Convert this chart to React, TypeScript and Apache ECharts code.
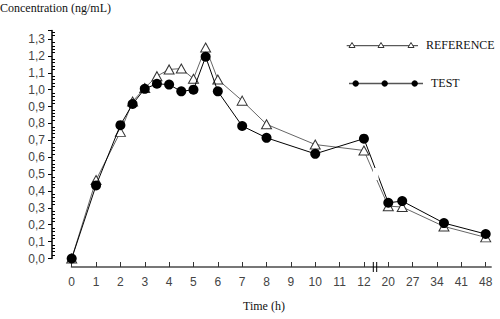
import React, { useEffect, useRef } from "react";
import * as echarts from "echarts";

// ---- data ----
const times = [0, 1, 2, 2.5, 3, 3.5, 4, 4.5, 5, 5.5, 6, 7, 8, 10, 12, 20, 24, 36, 48];
const referenceValues = [0, 0.465, 0.75, 0.93, 1.01, 1.08, 1.12, 1.125, 1.065, 1.25, 1.06, 0.935, 0.795, 0.675, 0.64, 0.31, 0.305, 0.19, 0.125];
const testValues = [0, 0.433, 0.79, 0.915, 1.005, 1.035, 1.03, 0.99, 1.0, 1.195, 0.99, 0.785, 0.715, 0.62, 0.71, 0.33, 0.34, 0.21, 0.145];
const xTickLabels = ["0", "1", "2", "3", "4", "5", "6", "7", "8", "9", "10", "11", "12", "20", "27", "34", "41", "48"];
const seriesNames = ["REFERENCE", "TEST"];

// broken time axis: 0..12 h linear, then one slot per 7 h starting at 20 h
const BREAK_FROM = 12;
const AFTER_BREAK_START = 20;
const AFTER_BREAK_STEP = 7;
function timeToPos(t: number): number {
  if (t <= BREAK_FROM) return t;
  return BREAK_FROM + 1 + (t - AFTER_BREAK_START) / AFTER_BREAK_STEP;
}

const SERIF = "'Liberation Serif', 'Times New Roman', serif";
const SANS = "'Liberation Sans', Arial, sans-serif";

export default function App() {
  const ref = useRef<HTMLDivElement>(null);

  useEffect(() => {
    document.body.style.margin = "0";
    const chart = echarts.init(ref.current as HTMLDivElement, null, { renderer: "svg" });

    const refData = times.map((t, i) => [timeToPos(t), referenceValues[i]]);
    const testData = times.map((t, i) => [timeToPos(t), testValues[i]]);

    const yAxisCommon = {
      type: "value" as const,
      min: 0,
      max: 1.35,
      interval: 0.1,
      position: "left" as const,
      offset: 19.7,
      splitLine: { show: false },
    };

    chart.setOption({
      animation: false,
      backgroundColor: "#fff",
      grid: { left: 71.7, right: 14.3, top: 30.6, bottom: 60.5, containLabel: false },
      xAxis: {
        type: "value",
        min: 0,
        max: 17,
        interval: 1,
        position: "bottom",
        offset: 8.5,
        splitLine: { show: false },
        axisLine: { show: true, onZero: false, lineStyle: { color: "#777", width: 2 } },
        axisTick: { show: true, inside: true, length: 5, lineStyle: { color: "#333", width: 1 } },
        axisLabel: {
          margin: 9,
          fontFamily: SANS,
          fontSize: 12,
          color: "#444",
          formatter: (v: number) => xTickLabels[Math.round(v)] ?? "",
        },
      },
      yAxis: [
        {
          ...yAxisCommon,
          axisLine: { show: true, onZero: false, lineStyle: { color: "#000", width: 1.5 } },
          axisTick: { show: true, inside: false, length: 4, lineStyle: { color: "#000", width: 1 } },
          minorTick: { show: false },
          axisLabel: {
            margin: 7,
            fontFamily: SANS,
            fontSize: 12,
            color: "#444",
            formatter: (v: number) => {
              const r = Math.round(v * 10) / 10;
              if (Math.abs(r - v) > 1e-6) return "";
              return r.toFixed(1).replace(".", ",");
            },
          },
        },
        {
          ...yAxisCommon,
          axisLine: { show: false, onZero: false },
          axisTick: { show: false, inside: true },
          axisLabel: { show: false },
          minorTick: { show: true, splitNumber: 5, length: 3, lineStyle: { color: "#000", width: 1 } },
        },
      ],
      series: [
        {
          name: seriesNames[0],
          type: "line",
          data: refData,
          yAxisIndex: 0,
          symbol: "triangle",
          symbolSize: [10, 9],
          showAllSymbol: true,
          lineStyle: { color: "#666", width: 1 },
          itemStyle: { color: "#fff", borderColor: "#333", borderWidth: 1 },
          z: 2,
        },
        {
          name: seriesNames[1],
          type: "line",
          data: testData,
          yAxisIndex: 0,
          symbol: "circle",
          symbolSize: 10,
          showAllSymbol: true,
          lineStyle: { color: "#000", width: 1 },
          itemStyle: { color: "#000", borderColor: "#000", borderWidth: 0 },
          z: 3,
        },
      ],
      graphic: [
        // titles
        {
          type: "text",
          x: 0,
          y: 2,
          z: 100,
          style: { text: "Concentration (ng/mL)", font: `12px ${SERIF}`, fill: "#111" },
        },
        {
          type: "text",
          x: 243,
          y: 300,
          z: 100,
          style: { text: "Time (h)", font: `12px ${SERIF}`, fill: "#111" },
        },
        // gap in lines across the axis break
        { type: "rect", z: 100, shape: { x: 373, y: 168, width: 5.5, height: 12 }, style: { fill: "#fff" } },
        // axis break marks
        { type: "line", z: 100, shape: { x1: 373.3, y1: 262, x2: 373.3, y2: 272 }, style: { stroke: "#000", lineWidth: 1 } },
        { type: "line", z: 100, shape: { x1: 376.7, y1: 262, x2: 376.7, y2: 272 }, style: { stroke: "#000", lineWidth: 1 } },
        // axis line extension past last tick
        { type: "line", z: 100, shape: { x1: 485.7, y1: 267, x2: 491.7, y2: 267 }, style: { stroke: "#777", lineWidth: 2 } },
        // legend: REFERENCE
        { type: "line", z: 100, shape: { x1: 346.7, y1: 45.7, x2: 418, y2: 45.7 }, style: { stroke: "#333", lineWidth: 1 } },
        ...[352, 381, 411].map((cx) => ({
          type: "polygon",
          z: 101,
          shape: { points: [[cx, 42.5], [cx - 3, 47.5], [cx + 3, 47.5]] },
          style: { fill: "#fff", stroke: "#333", lineWidth: 1 },
        })),
        {
          type: "text",
          x: 426,
          y: 39,
          z: 100,
          style: { text: seriesNames[0], font: `12px ${SERIF}`, fill: "#111" },
        },
        // legend: TEST
        { type: "line", z: 100, shape: { x1: 349, y1: 83.5, x2: 423, y2: 83.5 }, style: { stroke: "#555", lineWidth: 1.5 } },
        ...[355.7, 384.7, 414.7].map((cx) => ({
          type: "circle",
          z: 101,
          shape: { cx, cy: 83.5, r: 3.2 },
          style: { fill: "#000" },
        })),
        {
          type: "text",
          x: 431,
          y: 77,
          z: 100,
          style: { text: seriesNames[1], font: `12px ${SERIF}`, fill: "#111" },
        },
      ],
    });

    return () => chart.dispose();
  }, []);

  return <div ref={ref} style={{ width: 500, height: 319 }} />;
}
